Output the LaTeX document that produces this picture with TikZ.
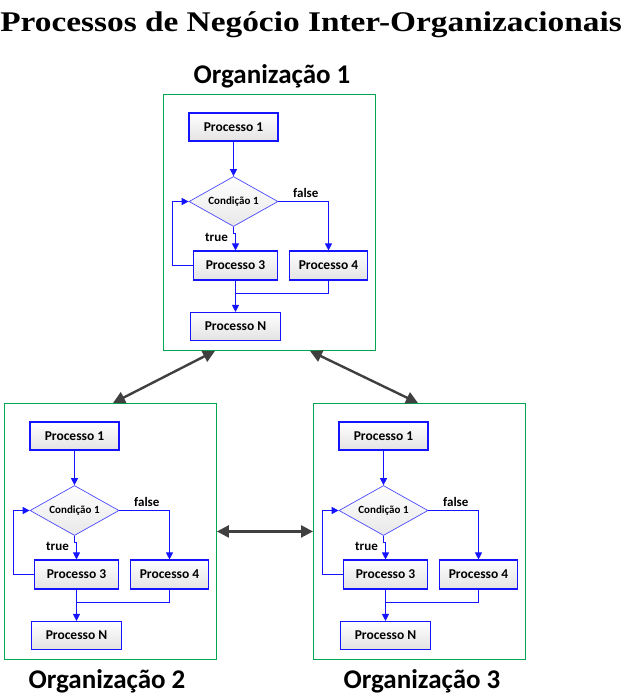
\documentclass[tikz,border=0pt]{standalone}
\usepackage{graphicx}
\usepackage{fontspec}
\setmainfont{Liberation Serif}
\newfontfamily\calfont{Carlito}
\usetikzlibrary{arrows.meta,calc,shapes.geometric}
\definecolor{flowblue}{HTML}{1414FF}
\definecolor{condblue}{HTML}{4A4AFF}
\definecolor{orggreen}{HTML}{00A650}
\definecolor{arrowgray}{HTML}{404040}
\tikzset{
  procbox/.style={line width=1.1pt, top color=white, bottom color=black!11,
    postaction={draw=flowblue, line width=1.1pt},
    minimum width=#1, minimum height=28pt, inner sep=0pt,
    font=\calfont\bfseries\fontsize{13.5}{15}\selectfont},
  procbox/.default=89pt,
  condbox/.style={diamond, line width=0.7pt, top color=white, bottom color=black!9,
    postaction={draw=condblue, line width=0.7pt},
    minimum width=89pt, minimum height=50pt, inner sep=0pt, aspect=1.8,
    font=\calfont\bfseries\fontsize{11}{13}\selectfont},
  orgbox/.style={draw=orggreen, line width=0.9pt, minimum width=212pt, minimum height=256pt, inner sep=0pt},
  flowarrow/.style={draw=flowblue, line width=0.9pt, -{Triangle[length=7pt,width=7pt]}},
  flowline/.style={draw=flowblue, line width=0.9pt},
  flowlabel/.style={inner sep=0pt, font=\calfont\bfseries\fontsize{13}{15}\selectfont},
  orglabel/.style={inner sep=0pt, font=\calfont\bfseries\fontsize{27}{30}\selectfont},
  bigarrow/.style={draw=arrowgray, line width=2.4pt,
    {Triangle[length=12pt,width=12pt]}-{Triangle[length=12pt,width=12pt]}},
  orgflow/.pic={
    \node[orgbox, anchor=north west] (-box) at (0,0) {};
    \node[procbox] (-p1) at (70.5,33) {Processo 1};
    \node[condbox] (-d) at (70.5,107.5) {Condição 1};
    \node[procbox=84pt, minimum height=29pt] (-p3) at (72.5,171.5) {Processo 3};
    \node[procbox=78pt, minimum height=29pt] (-p4) at (165.5,171.5) {Processo 4};
    \node[procbox=90pt] (-pn) at (72.5,232.5) {Processo N};
    \coordinate (-m) at (72.5,199);
    \node[flowlabel, anchor=east] (-t) at (65,143) {true};
    \node[flowlabel, anchor=base west] (-f) at (130,103) {false};
    \draw[flowarrow] (-p1.south) -- (-d.north);
    \draw[flowarrow] (-d.south) -- ++(0,7) -| (-p3.north);
    \draw[flowarrow] (-d.east) -| (-p4.north);
    \draw[flowarrow] (-p3.west) -| ([xshift=-16pt]-d.west) -- (-d.west);
    \draw[flowarrow] (-p3.south) -- (-pn.north);
    \draw[flowline] (-p4.south) |- (-m);
  }
}
\begin{document}
\begin{tikzpicture}[x=1pt,y=-1pt]
  \useasboundingbox (0,0) rectangle (623,696);
  \node[anchor=base, inner sep=0pt, font=\bfseries\fontsize{28.5}{32}\selectfont] (title) at (311,31)
    {\scalebox{1.17}[1]{Processos de Negócio Inter-Organizacionais}};
  \pic (o1) at (163,94) {orgflow};
  \pic (o2) at (4,403) {orgflow};
  \pic (o3) at (313,403) {orgflow};
  \node[orglabel, anchor=base] (l1) at (272,83) {Organização 1};
  \node[orglabel, anchor=base] (l2) at (107,688) {Organização 2};
  \node[orglabel, anchor=base] (l3) at (422,688) {Organização 3};
  \coordinate (a1) at ($(o1-box.south west)+(52,0)$);
  \coordinate (a2) at ($(o2-box.north west)+(109,0)$);
  \coordinate (b1) at ($(o1-box.south west)+(147,0)$);
  \coordinate (b2) at ($(o3-box.north west)+(105,0)$);
  \draw[bigarrow] (a1) -- (a2);
  \draw[bigarrow] (b1) -- (b2);
  \draw[bigarrow] (o2-box.east) -- (o3-box.west);
\end{tikzpicture}
\end{document}
